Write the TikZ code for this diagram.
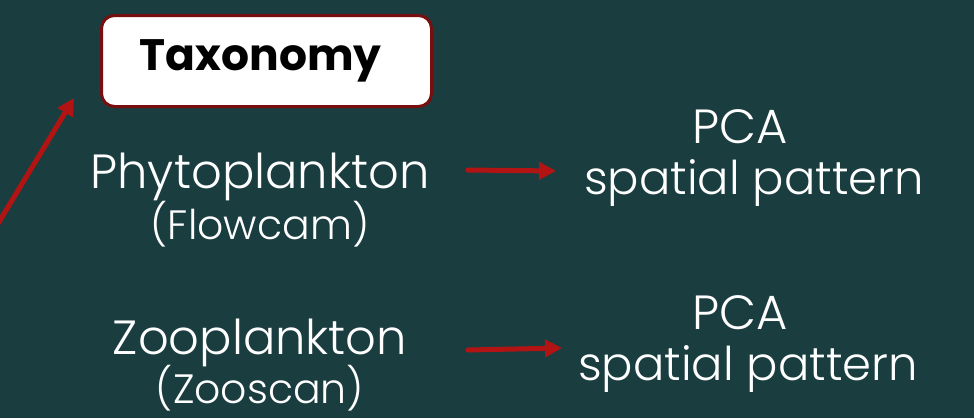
\documentclass[tikz,border=0pt]{standalone}
\usepackage{fontspec}
\setmainfont{Poppins}
\newfontfamily\lightfont{Poppins}[UprightFont={* Light}]
\usetikzlibrary{arrows.meta}
\definecolor{bg}{RGB}{26,61,64}
\definecolor{arrred}{RGB}{178,20,20}
\definecolor{boxred}{RGB}{120,14,14}
\begin{document}
\begin{tikzpicture}[x=1pt,y=-1pt,
  main/.style={text=white,inner sep=0pt,anchor=base,font=\lightfont\fontsize{48}{50}\selectfont},
  side/.style={text=white,inner sep=0pt,anchor=base,font=\lightfont\fontsize{46.5}{50}\selectfont},
  sub/.style={text=white,inner sep=0pt,anchor=base,font=\lightfont\fontsize{41}{50}\selectfont},
  taxbox/.style={draw=boxred,line width=3pt,fill=white,rounded corners=13pt,minimum width=330pt,minimum height=91pt,inner sep=0pt,font=\bfseries\fontsize{44}{50}\selectfont,text=black},
  arr/.style={draw=arrred,line width=5pt,line cap=round,-{Triangle[length=17pt,width=17pt]}}]
\fill[bg] (0,0) rectangle (974,418);
\useasboundingbox (0,0) rectangle (974,418);
\node[taxbox] (tax) at (266.5,61) {Taxonomy\hspace*{12pt}};
\node[main] (phyto) at (260,188) {Phytoplankton};
\node[sub] (flowcam) at (260,239) {(Flowcam)};
\node[main] (zoo) at (260,354) {Zooplankton};
\node[sub] (zooscan) at (260,403) {(Zooscan)};
\node[main] (pcaA) at (740,143) {PCA};
\node[side] (spA) at (754,194) {spatial pattern};
\node[main] (pcaB) at (740,329) {PCA};
\node[side] (spB) at (748,380) {spatial pattern};
\coordinate (d0) at (-12,240);
\coordinate (d1) at (74,98);
\coordinate (a1s) at (468,170);
\coordinate (a1e) at (556,171);
\coordinate (a2s) at (468,350);
\coordinate (a2e) at (562,348);
\draw[arr] (d0) -- (d1);
\draw[arr] (a1s) -- (a1e);
\draw[arr] (a2s) -- (a2e);
\end{tikzpicture}
\end{document}
